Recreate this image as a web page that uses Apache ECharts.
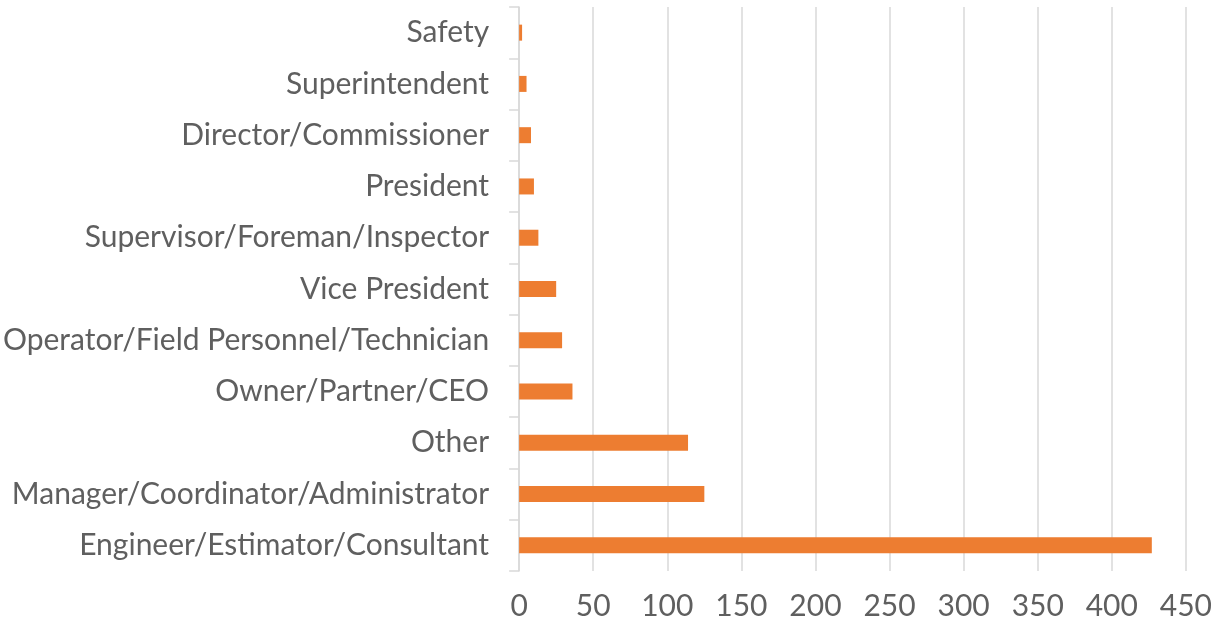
<!DOCTYPE html>
<html>
<head>
<meta charset="utf-8">
<script src="https://cdn.jsdelivr.net/npm/echarts@6/dist/echarts.min.js"></script>
<style>html,body{margin:0;padding:0;background:#fff}#c{width:1215px;height:622px}</style>
</head>
<body>
<div id="c"></div>
<script>
// Top-to-bottom order
const categories = [
  "Safety",
  "Superintendent",
  "Director/Commissioner",
  "President",
  "Supervisor/Foreman/Inspector",
  "Vice President",
  "Operator/Field Personnel/Technician",
  "Owner/Partner/CEO",
  "Other",
  "Manager/Coordinator/Administrator",
  "Engineer/Estimator/Consultant"
];
const counts = [2, 5, 8, 10, 13, 25, 29, 36, 114, 125, 427];
const xTicks = { min: 0, max: 450, interval: 50 };

const chart = echarts.init(document.getElementById('c'), null, { renderer: 'canvas' });
const font = 'Lato, "Open Sans", sans-serif';
chart.setOption({
  animation: false,
  backgroundColor: '#ffffff',
  grid: { left: 519, right: 29, top: 7, bottom: 51, containLabel: false },
  xAxis: {
    type: 'value',
    min: xTicks.min, max: xTicks.max, interval: xTicks.interval,
    axisLine: { show: false },
    axisTick: { show: false },
    splitLine: { show: true, lineStyle: { color: '#d9d9d9', width: 1.5 } },
    axisLabel: { color: '#5f5f5f', fontSize: 30, fontFamily: font, margin: 20 }
  },
  yAxis: {
    type: 'category',
    data: categories,
    inverse: true,
    axisLine: { show: true, lineStyle: { color: '#d9d9d9', width: 1.5 } },
    axisTick: { show: true, length: 10, lineStyle: { color: '#d9d9d9', width: 1.5 } },
    axisLabel: { color: '#5f5f5f', fontSize: 30, fontFamily: font, margin: 30 }
  },
  series: [{
    type: 'bar',
    data: counts,
    barWidth: 16,
    itemStyle: { color: '#ED7D31' }
  }]
});
</script>
</body>
</html>
